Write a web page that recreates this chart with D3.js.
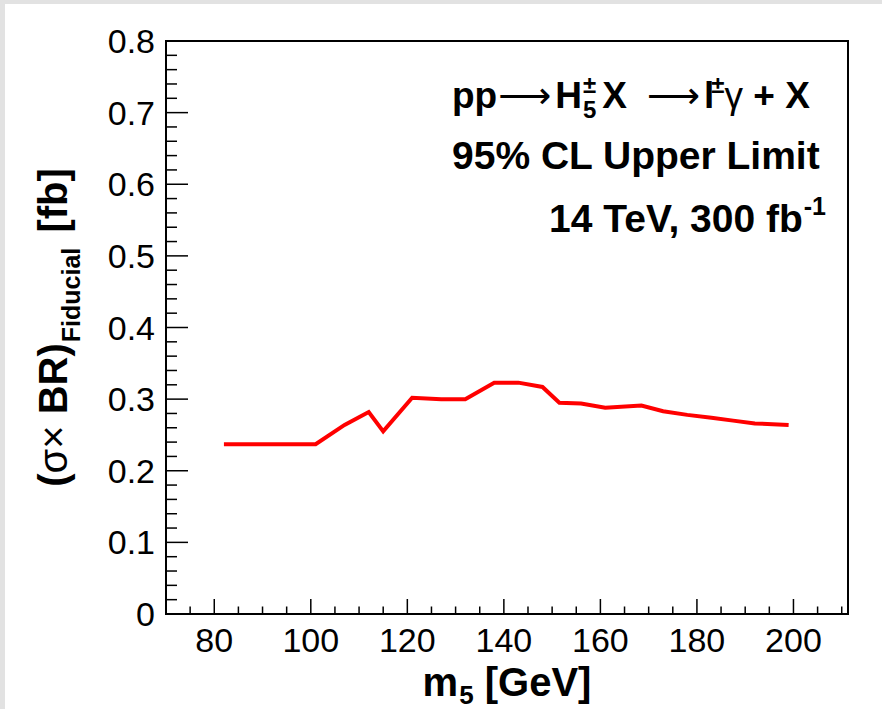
<!DOCTYPE html>
<html>
<head>
<meta charset="utf-8">
<script src="https://cdn.jsdelivr.net/npm/d3@7"></script>
<style>
  html, body { margin: 0; padding: 0; background: #e2e2e2; }
  svg { display: block; }
  text { font-family: "Liberation Sans", Arial, Helvetica, sans-serif; white-space: pre; }
</style>
</head>
<body>
<svg id="chart" width="882" height="709"></svg>
<script>
// ---- data ----
const masses = [82, 101, 107, 112, 115, 121, 127, 132, 138, 143, 148, 151.5, 156, 161, 168.5, 173, 178, 183, 187.5, 192, 199];
const limits = [0.237, 0.237, 0.264, 0.282, 0.255, 0.302, 0.300, 0.300, 0.323, 0.323, 0.317, 0.295, 0.294, 0.288, 0.291, 0.283, 0.278, 0.274, 0.270, 0.266, 0.264];
const xTicks = [80, 100, 120, 140, 160, 180, 200];
const yTicks = [0, 0.1, 0.2, 0.3, 0.4, 0.5, 0.6, 0.7, 0.8];
const xDomain = [70, 211.3];
const yDomain = [0, 0.8];

const svg = d3.select("#chart");
svg.append("rect").attr("x", 5).attr("y", 4).attr("width", 877).attr("height", 705).attr("fill", "#ffffff");

const L = 166, R = 848, T = 41, B = 614;
const x = d3.scaleLinear().domain(xDomain).range([L, R]);
const y = d3.scaleLinear().domain(yDomain).range([B, T]);

const xMinor = d3.range(75, 211, 5).filter(v => v % 20 !== 0);
const yMinor = d3.range(0, 81, 2).map(v => v / 100).filter(v => Math.round(v * 100) % 10 !== 0);

const gx = svg.append("g");
gx.selectAll("line.maj").data(xTicks).join("line")
  .attr("x1", d => x(d)).attr("x2", d => x(d)).attr("y1", B).attr("y2", B - 15)
  .attr("stroke", "#000").attr("stroke-width", 1.5);
gx.selectAll("line.min").data(xMinor).join("line")
  .attr("x1", d => x(d)).attr("x2", d => x(d)).attr("y1", B).attr("y2", B - 7.5)
  .attr("stroke", "#000").attr("stroke-width", 1.5);
gx.selectAll("text").data(xTicks).join("text")
  .attr("x", d => x(d)).attr("y", 652).attr("text-anchor", "middle")
  .attr("font-size", 34).attr("fill", "#000").text(d => d);

const gy = svg.append("g");
gy.selectAll("line.maj").data(yTicks).join("line")
  .attr("x1", L).attr("x2", L + 22).attr("y1", d => y(d)).attr("y2", d => y(d))
  .attr("stroke", "#000").attr("stroke-width", 1.5);
gy.selectAll("line.min").data(yMinor).join("line")
  .attr("x1", L).attr("x2", L + 11).attr("y1", d => y(d)).attr("y2", d => y(d))
  .attr("stroke", "#000").attr("stroke-width", 1.5);
gy.selectAll("text").data(yTicks).join("text")
  .attr("x", 155).attr("y", d => y(d) + 12).attr("text-anchor", "end")
  .attr("font-size", 34).attr("fill", "#000").text(d => d === 0 ? "0" : d3.format(".1f")(d));

svg.append("rect").attr("x", L).attr("y", T).attr("width", R - L).attr("height", B - T)
  .attr("fill", "none").attr("stroke", "#000").attr("stroke-width", 2);

const line = d3.line().x((d, i) => x(masses[i])).y(d => y(d));
svg.append("path").datum(limits).attr("d", line)
  .attr("fill", "none").attr("stroke", "#ff0000").attr("stroke-width", 4)
  .attr("stroke-linejoin", "miter");

// ---- rich text helper ----
function rich(parent, x0, y0, segs, anchor) {
  const g = parent.append("g");
  let cx = 0;
  const items = [];
  segs.forEach(s => {
    const t = g.append("text")
      .attr("y", y0 + (s.dy || 0))
      .attr("font-size", s.size)
      .attr("font-weight", s.weight || "bold")
      .attr("fill", "#000")
      .text(s.t);
    if (s.family) t.style("font-family", s.family);
    const w = t.node().getComputedTextLength();
    let px = cx + (s.dx || 0);
    if (s.stack) px = items[items.length - 1].px;
    t.attr("x", px);
    items.push({t, px, w});
    const end = px + w;
    if (s.stack) cx = Math.max(cx, end); else cx = end;
  });
  const total = cx;
  const shift = anchor === "end" ? x0 - total : x0;
  g.attr("transform", `translate(${shift},0)`);
  return g;
}

const F = 39, F1 = 37, NB = "\u00A0";
rich(svg, 452, 108, [
  {t: "pp", size: F1},
  {t: "\u27F6", size: F1, weight: "normal", family: "DejaVu Sans", dx: 1},
  {t: "H", size: F1, dx: 4},
  {t: "\u00B1", size: 24, dy: -15, dx: 1},
  {t: "5", size: 24, dy: 10, stack: true},
  {t: "X", size: F1, dx: 6},
  {t: "\u27F6", size: F1, weight: "normal", family: "DejaVu Sans", dx: 20},
  {t: "l", size: F1, dx: 4},
  {t: "\u00B1", size: 24, dy: -15, dx: -3},
  {t: "\u03B3", size: F1, weight: "normal"},
  {t: NB + "+" + NB + "X", size: F1}
], "start");

rich(svg, 452, 169, [
  {t: "95% CL Upper Limit", size: F}
], "start");

rich(svg, 826, 232, [
  {t: "14 TeV, 300 fb", size: F},
  {t: "-1", size: 25, dy: -17, dx: 1}
], "end");

// x title
const xt = rich(svg, 0, 696, [
  {t: "m", size: 40},
  {t: "5", size: 26, dy: 8, dx: 1},
  {t: NB + "[GeV]", size: 40}
], "start");
{
  const bb = xt.node().getBBox();
  xt.attr("transform", `translate(${(L + R) / 2 - bb.width / 2},0)`);
}

// y title (rotated)
const ytG = svg.append("g");
const ytInner = rich(ytG, 0, 0, [
  {t: "(", size: 40},
  {t: "\u03C3\u00D7", size: 40, weight: "normal"},
  {t: NB + "BR)", size: 40},
  {t: "Fiducial", size: 25, dy: 13, dx: 1},
  {t: NB + "[fb]", size: 40, dx: 4}
], "start");
{
  const bb = ytInner.node().getBBox();
  ytInner.attr("transform", `translate(${-bb.width / 2},0)`);
  ytG.attr("transform", `translate(67,${(T + B) / 2}) rotate(-90)`);
}
</script>
</body>
</html>
